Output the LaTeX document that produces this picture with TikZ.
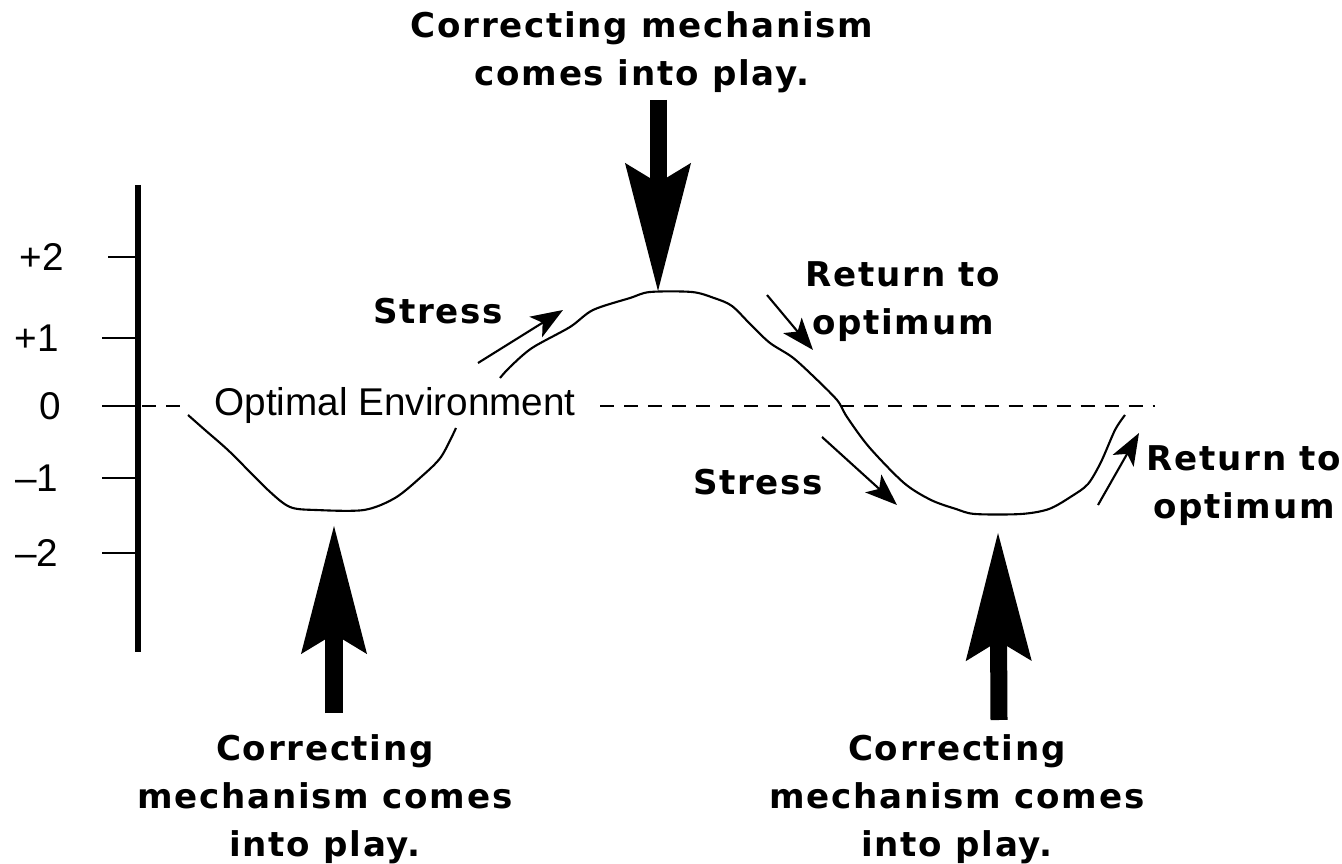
\documentclass[tikz,border=0pt]{standalone}
\usepackage{fontspec}
\setmainfont{Liberation Sans}
\newfontfamily\notefont[LetterSpace=5]{DejaVu Sans Bold}
\usetikzlibrary{arrows.meta, positioning}
\tikzset{
  note/.style={font=\notefont\fontsize{9.7}{13.65}\selectfont, align=center, inner sep=0pt},
  scalelabel/.style={font=\fontsize{11}{13}\selectfont, inner sep=0pt},
  bigarrow/.style={line width=0.17cm, -{Stealth[length=1.28cm, width=0.66cm, inset=0.2cm, line width=0pt]}},
  smallarrow/.style={line width=0.6pt, -{Stealth[length=0.32cm, width=0.24cm, inset=0.08cm]}},
  curve/.style={line width=0.6pt, line join=round},
  axis/.style={line width=1.7pt},
  tickline/.style={line width=0.7pt},
  optline/.style={line width=0.8pt, dash pattern=on 0.14cm off 0.1cm}
}

\begin{document}
\begin{tikzpicture}[x=0.01cm, y=-0.01cm]
  \useasboundingbox (0,0) rectangle (1342,864);

  % scale on the left
  \coordinate (axtop) at (138,185);
  \coordinate (axbot) at (138,652);
  \draw[axis] (axtop) -- (axbot);

  \node[scalelabel] (ptwo) at (42,257) {+2};
  \node[scalelabel] (pone) at (37,338) {+1};
  \node[scalelabel] (zero) at (50,406) {0};
  \node[scalelabel] (mone) at (37,478) {\textendash1};
  \node[scalelabel] (mtwo) at (37,553) {\textendash2};

  \draw[tickline] (108,257) -- (138,257);
  \draw[tickline] (102,338) -- (138,338);
  \draw[tickline] (102,406) -- (138,406);
  \draw[tickline] (102,478) -- (138,478);
  \draw[tickline] (102,553) -- (138,553);

  % optimal level
  \coordinate (optstart) at (142,406);
  \coordinate (optend) at (1155,406);
  \node[scalelabel, inner xsep=0.24cm] (optenv) at (395,406) {Optimal Environment};
  \draw[optline] (optstart) -- (optenv.west);
  \draw[optline] (optenv.east) -- (optend);

  % the environment curve
  \draw[curve] plot[smooth, tension=0.5] coordinates {(188,415) (205,430) (230,452) (268,490) (290,507) (316,510) (364,510) (395,498) (421,477) (441,457) (456,428)};
  \draw[curve] plot[smooth, tension=0.5] coordinates {(500,378) (510,367) (532,348) (570,327) (593,310) (630,298) (650,292) (692,292) (714,298) (732,306) (752,326) (770,343) (792,357) (812,375) (837,400) (847,417) (869,447) (904,483) (931,500) (956,509) (975,514) (1021,514) (1049,509) (1072,496) (1088,484) (1101,462) (1115,430) (1125,415)};

  % texts
  \node[note] (topnote) at (642,52) {Correcting mechanism\\comes into play.};
  \node[note] (leftnote) at (325,799) {Correcting\\mechanism comes\\into play.};
  \node[note] (rightnote) at (957,799) {Correcting\\mechanism comes\\into play.};
  \node[note] (stressL) at (438,311) {Stress};
  \node[note] (returnT) at (903,302) {Return to\\optimum};
  \node[note] (stressR) at (758,482) {Stress};
  \node[note] (returnR) at (1244,486) {Return to\\optimum};

  % correcting mechanism arrows
  \coordinate (peak) at (658,291);
  \coordinate (topstart) at (658,100);
  \coordinate (troughL) at (334,526);
  \coordinate (baseL) at (334,713);
  \coordinate (troughR) at (998,533);
  \coordinate (baseR) at (999,720);
  \draw[bigarrow] (topstart) -- (peak);
  \draw[bigarrow] (baseL) -- (troughL);
  \draw[bigarrow] (baseR) -- (troughR);

  % stress and return arrows
  \coordinate (sLa) at (478,363);
  \coordinate (sLb) at (563,310);
  \coordinate (rTa) at (767,295);
  \coordinate (rTb) at (813,350);
  \coordinate (sRa) at (822,437);
  \coordinate (sRb) at (897,505);
  \coordinate (rRa) at (1098,505);
  \coordinate (rRb) at (1139,433);
  \draw[smallarrow] (sLa) -- (sLb);
  \draw[smallarrow] (rTa) -- (rTb);
  \draw[smallarrow] (sRa) -- (sRb);
  \draw[smallarrow] (rRa) -- (rRb);
\end{tikzpicture}
\end{document}
